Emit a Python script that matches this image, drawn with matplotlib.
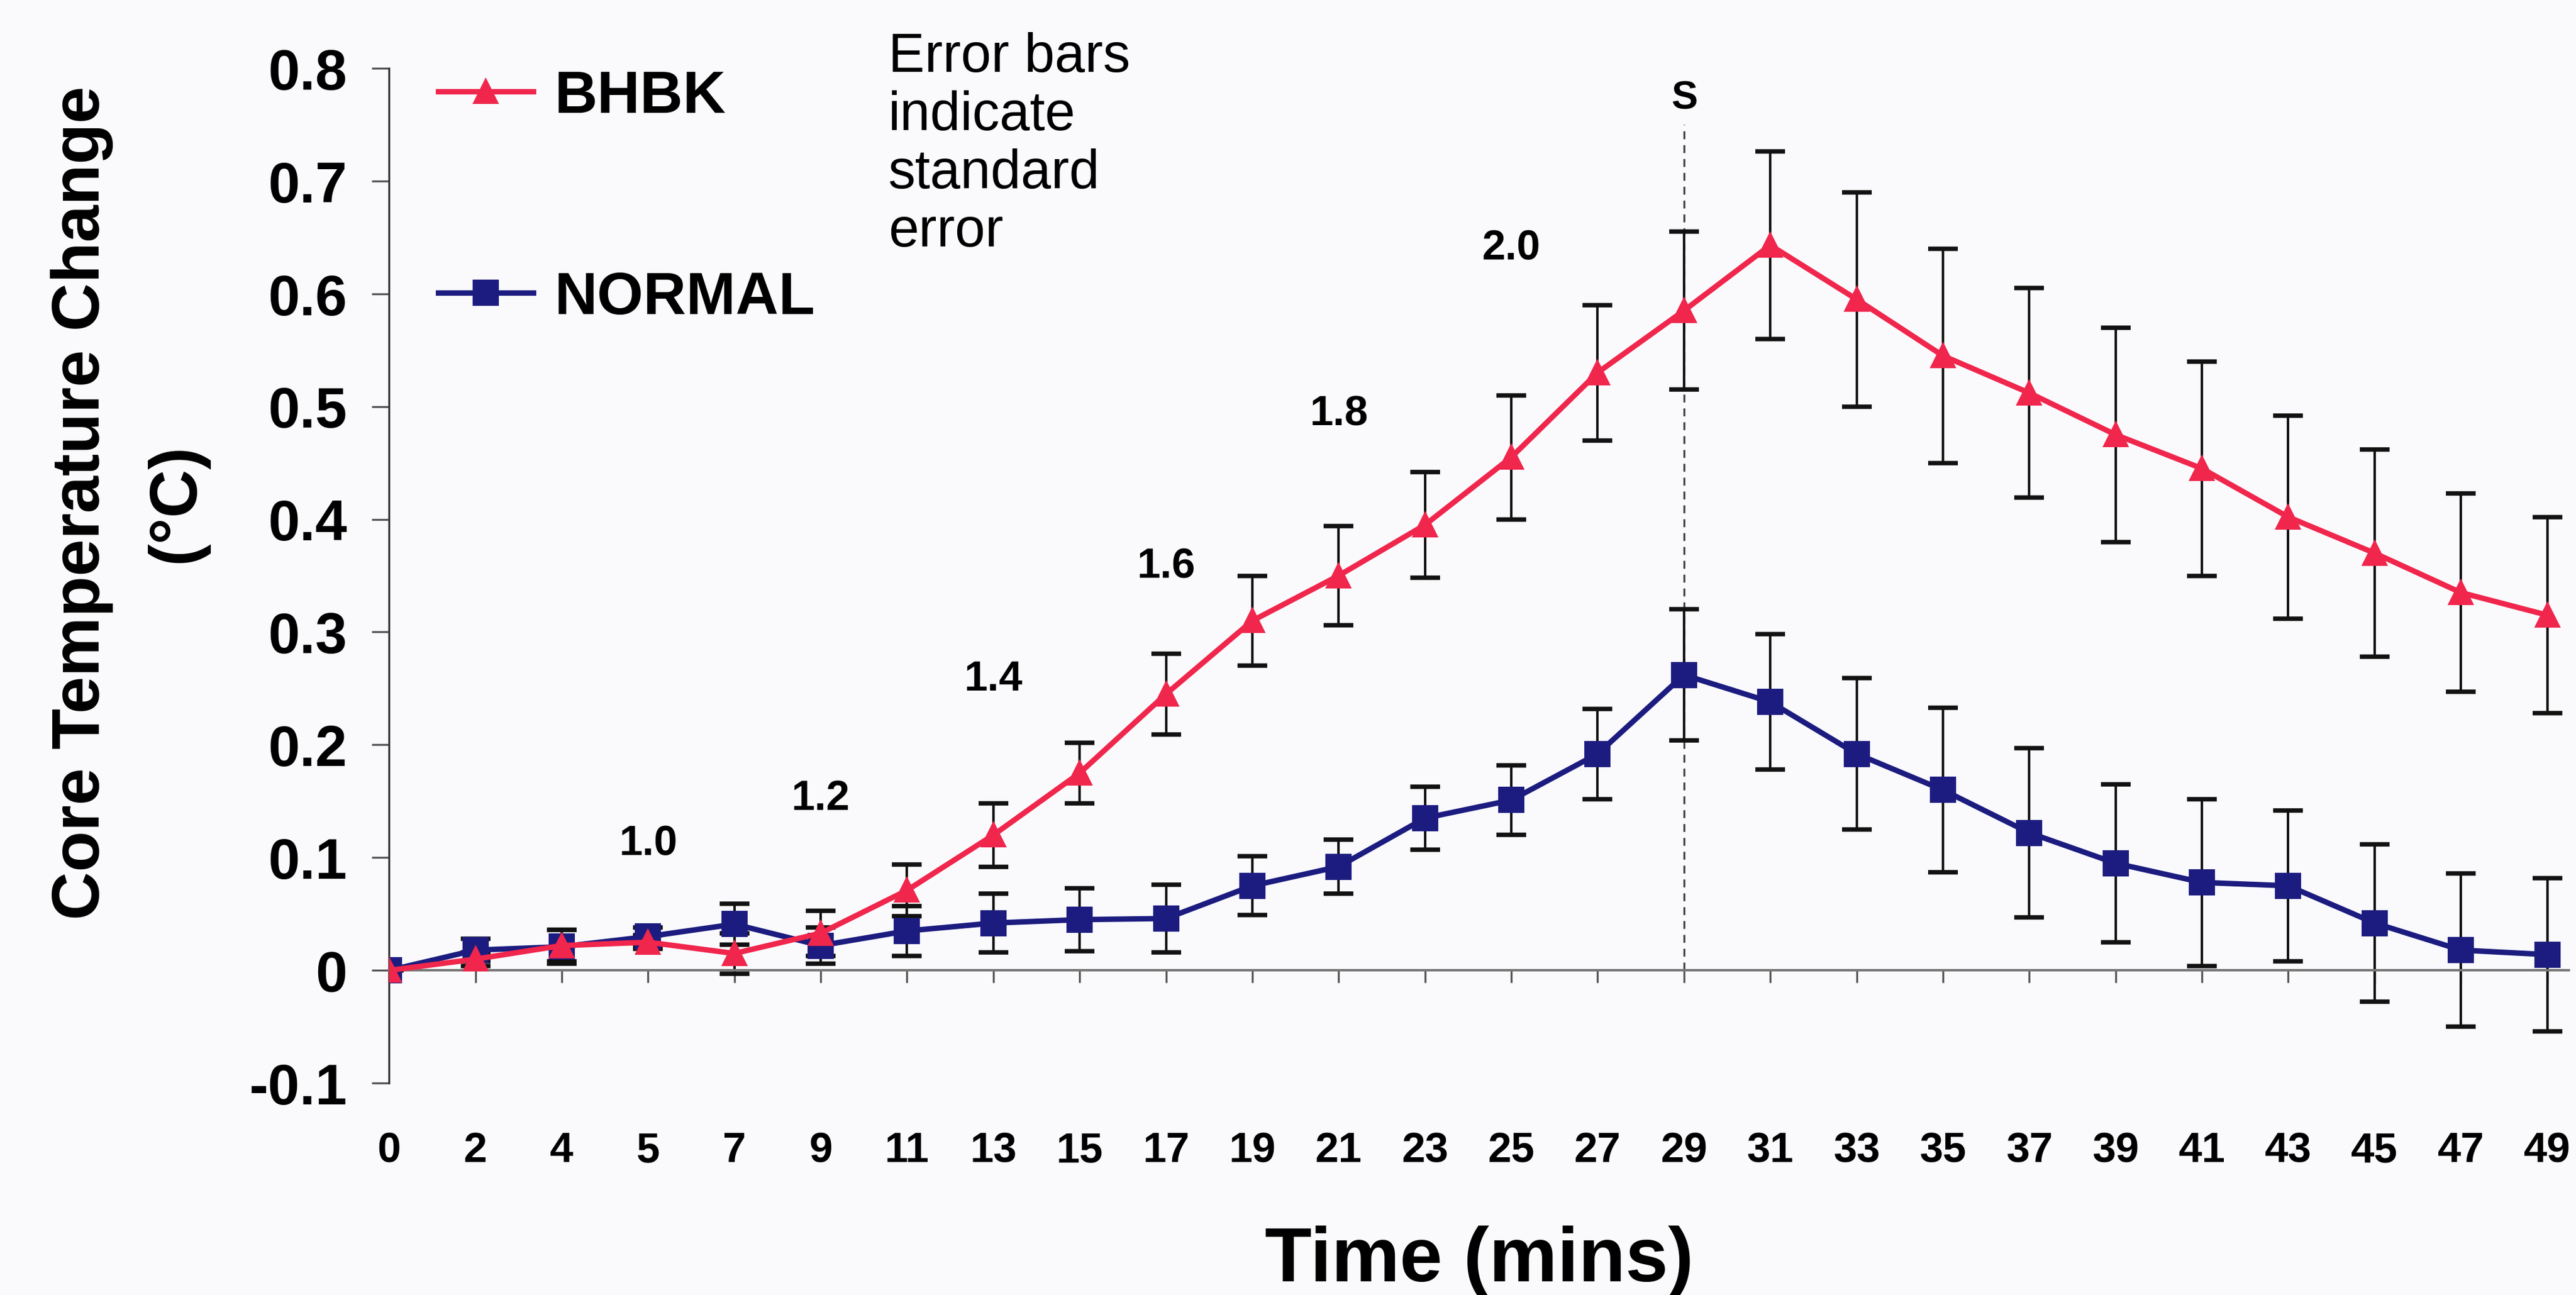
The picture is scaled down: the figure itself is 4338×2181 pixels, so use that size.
import matplotlib
matplotlib.use('Agg')

import numpy as np
import matplotlib.pyplot as plt

plt.rcParams['font.family'] = ['Liberation Sans', 'DejaVu Sans']

# ========== data ==========
times = [0, 2, 4, 5, 7, 9, 11, 13, 15, 17, 19, 21, 23, 25, 27, 29,
         31, 33, 35, 37, 39, 41, 43, 45, 47, 49]

bhbk = [0.0, 0.010, 0.022, 0.025, 0.015, 0.033, 0.071, 0.120, 0.175, 0.245,
        0.310, 0.350, 0.395, 0.455, 0.530, 0.585, 0.643, 0.595, 0.545, 0.512,
        0.475, 0.445, 0.402, 0.370, 0.335, 0.315]
bhbk_se = [0.0, 0.006, 0.014, 0.006, 0.018, 0.020, 0.023, 0.028, 0.027, 0.036,
           0.040, 0.044, 0.047, 0.055, 0.060, 0.070, 0.083, 0.095, 0.095, 0.093,
           0.095, 0.095, 0.090, 0.092, 0.088, 0.087]

normal = [0.0, 0.018, 0.021, 0.030, 0.041, 0.022, 0.035, 0.042, 0.045, 0.046,
          0.075, 0.092, 0.135, 0.151, 0.192, 0.262, 0.238, 0.192, 0.160, 0.122,
          0.095, 0.078, 0.075, 0.042, 0.018, 0.014]
normal_se = [0.0, 0.010, 0.015, 0.008, 0.018, 0.016, 0.022, 0.026, 0.028, 0.030,
             0.026, 0.024, 0.028, 0.031, 0.040, 0.058, 0.060, 0.067, 0.073, 0.075,
             0.070, 0.074, 0.067, 0.070, 0.068, 0.068]

# dose labels along the rising curve (category index, y position, text)
dose_idx = [3, 5, 7, 9, 11, 13]
dose_y = [0.112, 0.152, 0.258, 0.358, 0.493, 0.640]
dose_txt = ['1.0', '1.2', '1.4', '1.6', '1.8', '2.0']

s_idx = 15      # time 29
s_top = 0.75

red = '#f0264c'
navy = '#1c1c80'
bg = '#fafafd'
narrow = ['Liberation Sans Narrow', 'Liberation Sans', 'DejaVu Sans']

x = np.arange(len(times))

fig = plt.figure(figsize=(14.463, 7.273), dpi=300)
fig.patch.set_facecolor(bg)
ax = fig.add_axes([0.151, 0.1635, 0.846, 0.7835])
ax.set_facecolor(bg)

# spine position first: it resets the tick objects
ax.spines['top'].set_visible(False)
ax.spines['right'].set_visible(False)
ax.spines['bottom'].set_position(('data', 0))
ax.spines['bottom'].set_color('#777777')
ax.spines['bottom'].set_linewidth(1.0)
ax.spines['left'].set_color('#333333')
ax.spines['left'].set_linewidth(0.8)

# error bars (black) under the lines
ax.errorbar(x, bhbk, yerr=bhbk_se, fmt='none', ecolor='#111111',
            elinewidth=1.0, capsize=6, capthick=1.8, zorder=2)
ax.errorbar(x, normal, yerr=normal_se, fmt='none', ecolor='#111111',
            elinewidth=1.0, capsize=6, capthick=1.8, zorder=2)

ax.plot(x, bhbk, color=red, lw=2.2, marker='^', ms=9, mec=red, mfc=red,
        label='BHBK', zorder=4)
ax.plot(x, normal, color=navy, lw=2.2, marker='s', ms=9.5, mec=navy, mfc=navy,
        label='NORMAL', zorder=3)

# dashed marker line at S
ax.vlines(x[s_idx], 0, s_top, colors='#444444', linestyles=(0, (4, 3)),
          lw=0.8, zorder=1)
ax.text(x[s_idx], 0.773, 'S', ha='center', va='center', fontsize=16,
        fontweight='bold', family=narrow)

for i, yy, t in zip(dose_idx, dose_y, dose_txt):
    ax.text(x[i], yy, t, ha='center', va='center', fontsize=17,
            fontweight='bold', family=narrow)

ax.text(0.229, 1.036, 'Error bars\nindicate\nstandard\nerror',
        transform=ax.transAxes, ha='left', va='top', fontsize=22,
        linespacing=1.18)

# ========== axes ==========
ax.set_xlim(0, 25.25)
ax.set_ylim(-0.1, 0.8)
ax.set_yticks(np.arange(-0.1, 0.81, 0.1))
ax.set_yticklabels(['-0.1', '0', '0.1', '0.2', '0.3', '0.4', '0.5', '0.6',
                    '0.7', '0.8'], fontsize=23, fontweight='bold')
ax.set_xticks(x)
ax.set_xticklabels([str(t) for t in times], fontsize=17, fontweight='bold',
                   family=narrow)

ax.tick_params(axis='x', direction='out', length=5, width=0.8,
               color='#555555', pad=60)
ax.tick_params(axis='y', direction='out', length=7, width=0.8,
               color='#555555', pad=10)

ax.set_ylabel('Core Temperature Change\n(\u00b0C)', fontsize=27,
              fontweight='bold', linespacing=1.65)
ax.yaxis.set_label_coords(-0.083, 0.572)
ax.set_xlabel('Time (mins)', fontsize=31, fontweight='bold', labelpad=22)

leg = ax.legend(loc='upper left', bbox_to_anchor=(-0.002, 1.052),
                frameon=False, fontsize=24, handlelength=1.6,
                handletextpad=0.35, labelspacing=2.45)
for t in leg.get_texts():
    t.set_fontweight('bold')

fig.savefig('out.png', dpi=300, facecolor=fig.get_facecolor())
